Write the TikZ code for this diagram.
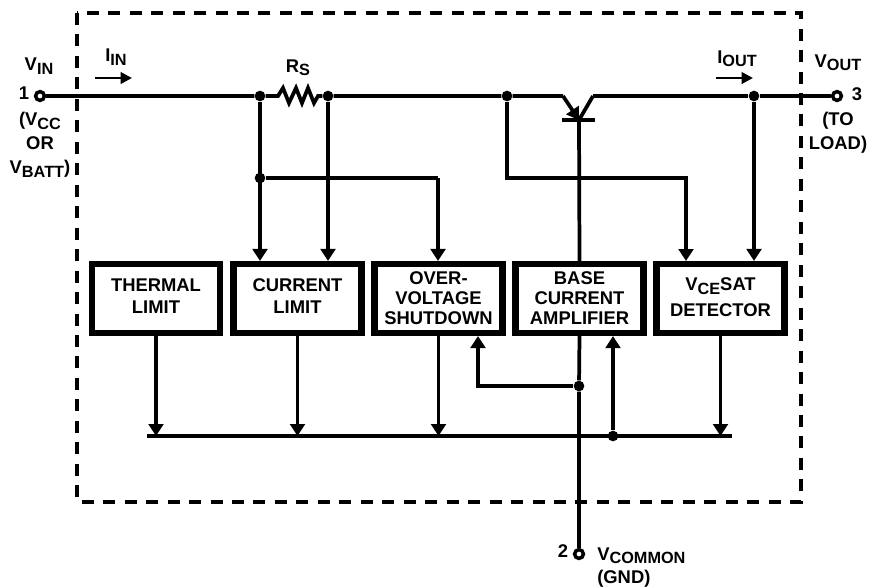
\documentclass[tikz,border=0pt]{standalone}
\usepackage{fontspec}
\setmainfont{Liberation Sans}[BoldFont={Liberation Sans Bold}]
\usetikzlibrary{calc, positioning, arrows.meta}
\newcommand{\lowtext}[1]{\raisebox{-2.6pt}{\fontsize{12.2}{12.2}\selectfont #1}}
\tikzset{
  wire/.style={line width=2.8pt, line join=miter},
  feed/.style={wire, -{Triangle[length=9pt,width=11pt]}},
  sense/.style={line width=2pt, -{Triangle[length=8.5pt,width=8.5pt]}},
  blockbox/.style={draw, line width=4.6pt, fill=white, minimum width=96pt, minimum height=51.75pt,
    align=center, inner sep=0pt, font=\fontsize{13.8}{15}\selectfont\bfseries},
  dot/.style={circle, fill=black, inner sep=0pt, minimum size=8pt},
  terminal/.style={circle, draw, line width=2.6pt, fill=white, inner sep=0pt, minimum size=6.6pt},
  tag/.style={align=center, inner sep=0pt, font=\fontsize{13.8}{18}\selectfont\bfseries}
}
\begin{document}
\begin{tikzpicture}[x=0.75pt, y=-0.75pt]
  \useasboundingbox (0,0) rectangle (873,587);
  % outer dashed frame
  \draw[line width=2.8pt, dash pattern=on 9pt off 7.1pt] (77,13) rectangle (801,502);
  % blocks
  \foreach \x/\boxname/\tdepth/\boxlabel in {
    156/thermal/4pt/{THERMAL\\[1.5pt]LIMIT},
    297.5/current/4pt/{CURRENT\\[1.5pt]LIMIT},
    438.5/shutdown/0pt/{OVER-\\VOLTAGE\\SHUTDOWN},
    579.5/amplifier/0pt/{BASE\\CURRENT\\AMPLIFIER},
    720.5/detector/2pt/{V\lowtext{CE}SAT\\[4pt]DETECTOR}} {
    \node[blockbox, text depth=\tdepth] (\boxname) at (\x,298.5) {\boxlabel};
  }
  % terminals and junctions
  \node[terminal] (vin) at (40,96) {};
  \node[terminal] (vout) at (837,96) {};
  \node[terminal] (vcommon) at (579,554) {};
  \node[dot] (jsense) at (260,96) {};
  \node[dot] (jload) at (328,96) {};
  \node[dot] (jemit) at (507,96) {};
  \node[dot] (jout) at (754,96) {};
  \node[dot] (jover) at (260,178) {};
  \node[dot] (jbase) at (579,386) {};
  \node[dot] (jbus) at (613,436) {};
  \coordinate (rsa) at (278,96);
  \coordinate (rsb) at (318,96);
  \coordinate (emit) at (563,96);
  \coordinate (coll) at (593,96);
  \coordinate (qbase) at (579,120);
  \coordinate (busa) at (147,436);
  \coordinate (busb) at (732,436);
  % main line
  \draw[wire] (vin) -- (jsense) -- (rsa) -- (283,88) -- (289,103) -- (296,88) -- (302,103)
    -- (308,88) -- (314,103) -- (rsb) -- (jload) -- (jemit) -- (emit);
  \draw[wire] (coll) -- (jout) -- (vout);
  % transistor
  \draw[feed] (emit) -- (qbase);
  \draw[wire] (qbase) -- (coll);
  \draw[wire] (562,120) -- (595,120);
  \draw[wire] (qbase) -- (amplifier.north);
  \draw[wire] (amplifier.south) -- (jbase) -- (vcommon);
  % feeds into the blocks
  \draw[feed] (jsense) -- (jsense |- current.north);
  \draw[feed] (jload) -- (jload |- current.north);
  \draw[wire] (jover) -- (438,178) coordinate (overcorner);
  \draw[feed] (overcorner) -- (overcorner |- shutdown.north);
  \draw[feed] (jemit) |- (686,178) -- (686,261);
  \draw[feed] (jout) -- (jout |- detector.north);
  % bus
  \draw[wire] (busa) -- (busb);
  \foreach \boxname in {thermal, current, shutdown, detector} {
    \draw[feed] (\boxname.south) -- (\boxname.south |- busa);
  }
  \draw[feed] (jbus) -- (jbus |- amplifier.south);
  \draw[feed] (jbase) -| (478,336);
  % current arrows
  \coordinate (iina) at (95,78);
  \coordinate (iinb) at (132,78);
  \coordinate (iouta) at (716,78);
  \coordinate (ioutb) at (753,78);
  \draw[sense] (iina) -- (iinb);
  \draw[sense] (iouta) -- (ioutb);
  % labels
  \node[tag] (vinlabel) at (39,66) {V\lowtext{IN}};
  \node[tag] (pinone) at (24,93) {1};
  \node[tag] (vinnote) at (40,145) {(V\lowtext{CC}\\OR\\V\lowtext{BATT})};
  \node[tag] (iinlabel) at (116,57) {I\lowtext{IN}};
  \node[tag] (rslabel) at (298,68) {R\lowtext{S}};
  \node[tag] (ioutlabel) at (737,59) {I\lowtext{OUT}};
  \node[tag] (voutlabel) at (838,63) {V\lowtext{OUT}};
  \node[tag] (pinthree) at (857,94) {3};
  \node[tag] (voutnote) at (838,133) {(TO\\LOAD)};
  \node[tag] (pintwo) at (563,551) {2};
  \node[tag, anchor=west] (vcomlabel) at (597,556) {V\lowtext{COMMON}};
  \node[tag, anchor=west] (gndlabel) at (597,579) {(GND)};
\end{tikzpicture}
\end{document}
